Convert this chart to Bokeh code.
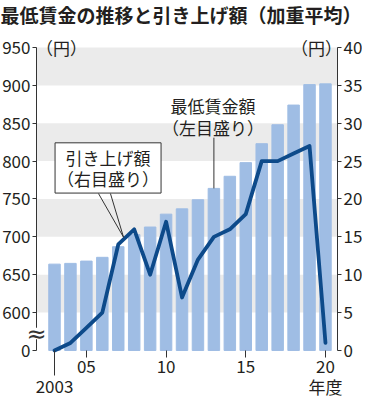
from bokeh.plotting import figure
from bokeh.models import Range1d, LinearAxis, FixedTicker, Label, BoxAnnotation
from bokeh.embed import file_html
from bokeh.resources import INLINE

# ---- data ----
years = list(range(2003, 2021))
wage = [664, 665, 668, 673, 687, 703, 713, 730, 737, 749, 764, 780, 798, 823, 848, 874, 901, 902]
increase = [0, 1, 3, 5, 14, 16, 10, 17, 7, 12, 15, 16, 18, 25, 25, 26, 27, 1]
left_ticks = [550, 600, 650, 700, 750, 800, 850, 900, 950]
left_labels = ["0", "600", "650", "700", "750", "800", "850", "900", "950"]
right_ticks = [0, 5, 10, 15, 20, 25, 30, 35, 40]
x_label_ticks = [2005, 2010, 2015, 2020]
x_labels = ["05", "10", "15", "20"]
first_year_label = "2003"
band_bottoms = [600, 700, 800, 900]

FONT = "Noto Sans CJK JP"
TXT = "#231f20"
AX = "#333333"
BAR = "#9fbde4"
LINE = "#0d4a8a"
BAND = "#ebebeb"

# frame covers the whole figure; axes are drawn at fixed locations
X0, X1 = 1999.612, 2022.323
Y0, Y1 = 485.3, 1012.05
PX_PER_UNIT = 399 / (Y1 - Y0)
XL, XR = 2001.871, 2020.754      # positions of the left / right axes
RIGHT_OFF = 550.0                # left value that matches 0 on the right scale
RIGHT_K = 10.0                   # left units per right unit

p = figure(width=362, height=399, x_range=Range1d(X0, X1), y_range=Range1d(Y0, Y1),
           output_backend="svg", toolbar_location=None,
           min_border_left=0, min_border_right=0, min_border_top=0, min_border_bottom=0)
p.extra_y_ranges = {"right": Range1d((Y0 - RIGHT_OFF) / RIGHT_K, (Y1 - RIGHT_OFF) / RIGHT_K)}
p.outline_line_color = None
p.grid.visible = False
p.xaxis.visible = False
p.yaxis.visible = False

for b in band_bottoms:
    p.add_layout(BoxAnnotation(left=XL, right=XR, bottom=b, top=b + 50, fill_color=BAND,
                               fill_alpha=1, line_color=None, level="underlay"))

p.vbar(x=years, top=wage, bottom=left_ticks[0], width=0.72, color=BAR)
p.line(years, increase, y_range_name="right", line_color=LINE, line_width=3.8,
       line_join="round", line_cap="round")

def style_axis(ax):
    ax.axis_line_color = AX
    ax.major_tick_line_color = AX
    ax.minor_tick_line_color = AX
    ax.major_tick_in = 0
    ax.minor_tick_in = 0
    ax.minor_tick_out = 0
    ax.major_label_text_font = FONT
    ax.major_label_text_font_size = "17px"
    ax.major_label_text_color = TXT
    ax.major_label_standoff = 2

la = LinearAxis(ticker=FixedTicker(ticks=left_ticks), fixed_location=XL,
                bounds=(left_ticks[0], left_ticks[-1]))
la.major_label_overrides = dict(zip(left_ticks, left_labels))
style_axis(la)
la.major_tick_out = 4
p.add_layout(la, "left")

ra = LinearAxis(y_range_name="right", ticker=FixedTicker(ticks=right_ticks), fixed_location=XR,
                bounds=(right_ticks[0], right_ticks[-1]))
style_axis(ra)
ra.major_tick_out = 4
p.add_layout(ra, "right")

ba = LinearAxis(ticker=FixedTicker(ticks=x_label_ticks), fixed_location=left_ticks[0])
ba.major_label_overrides = dict(zip(x_label_ticks, x_labels))
style_axis(ba)
ba.axis_line_color = None
ba.major_tick_out = 7
ba.major_label_standoff = 3
p.add_layout(ba, "below")

# long tick of the first year
p.segment(x0=[years[0]], y0=[left_ticks[0]], x1=[years[0]], y1=[left_ticks[0] - 25 / PX_PER_UNIT],
          line_color=AX, line_width=1)

lab_kw = dict(text_font=FONT, text_color=TXT)
p.add_layout(Label(x=years[0], y=13, y_units="screen", text=first_year_label,
                   text_align="center", text_baseline="middle", text_font_size="17px", **lab_kw))
p.add_layout(Label(x=x_label_ticks[-1], y=13.5, y_units="screen", text="年度",
                   text_align="center", text_baseline="middle", text_font_size="17px", **lab_kw))

# units
p.add_layout(Label(x=61, y=352, x_units="screen", y_units="screen", text="（円）",
                   text_align="center", text_baseline="middle", text_font_size="17px", **lab_kw))
p.add_layout(Label(x=316, y=352, x_units="screen", y_units="screen", text="（円）",
                   text_align="center", text_baseline="middle", text_font_size="17px", **lab_kw))

# title
p.add_layout(Label(x=0, y=385, x_units="screen", y_units="screen",
                   text="最低賃金の推移と引き上げ額（加重平均）", text_align="left",
                   text_baseline="middle", text_font_size="19px", text_font_style="bold", **lab_kw))

# axis break
p.add_layout(BoxAnnotation(left=XL - 0.12, right=XL + 0.12, bottom=565, top=580,
                           fill_color="white", fill_alpha=1, line_color=None, level="annotation"))
p.add_layout(Label(x=XL, y=572, text="≈", text_align="center", text_baseline="middle",
                   text_font_size="24px", text_font="DejaVu Sans", text_color=AX))

# annotation: wage (left scale)
ann_wage_y = 859
ann_wage_line_top = 831
p.segment(x0=[years[10]], y0=[wage[10]], x1=[years[10]], y1=[ann_wage_line_top],
          line_color=AX, line_width=1)
p.add_layout(Label(x=years[10] - 0.05, y=ann_wage_y, text="最低賃金額\n（左目盛り）",
                   text_align="center", text_baseline="middle", text_font_size="17px",
                   text_line_height=0.85, **lab_kw))

# annotation: increase (right scale)
box_x, box_y, box_bottom = 2006.36, 24.1, 20.72
tip_x = years[4] + 0.33
tip_y = increase[4] + 0.33 * (increase[5] - increase[4]) + 0.3
p.multi_line(xs=[[2005.76, tip_x], [2006.51, tip_x]], ys=[[box_bottom, tip_y], [box_bottom, tip_y]],
             y_range_name="right", line_color=AX, line_width=1)
p.add_layout(Label(x=box_x, y=box_y, y_range_name="right", text="引き上げ額\n（右目盛り）",
                   text_align="center", text_baseline="middle", text_font_size="17px",
                   text_line_height=0.85, border_line_color=AX, border_line_width=1,
                   background_fill_color="white", padding=2, **lab_kw))

open("out.html", "w").write(file_html(p, INLINE))
